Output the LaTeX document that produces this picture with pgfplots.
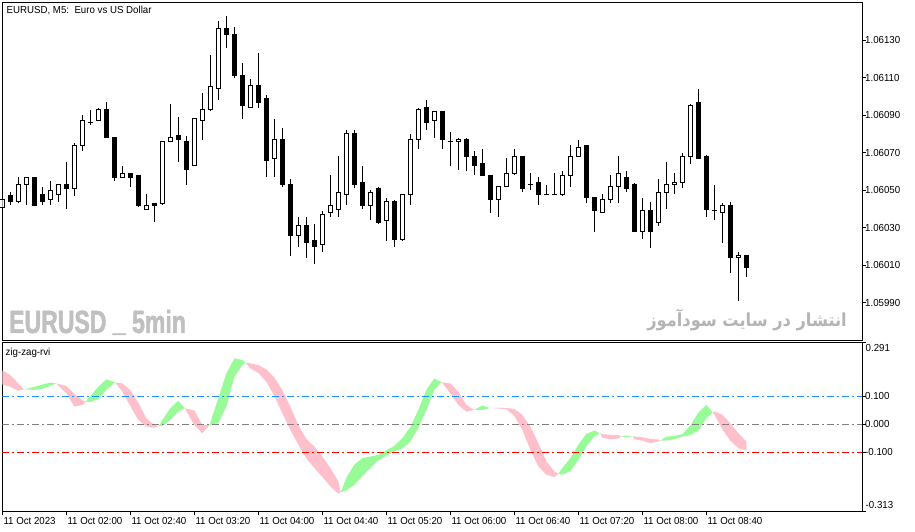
\documentclass[border=0pt]{standalone}
\usepackage{fontspec}
\setmainfont{Liberation Sans}[FakeStretch=0.95]
\newfontfamily\wmfont{Liberation Sans}[FakeStretch=0.72, FakeBold=1.5]
\newfontfamily\fafont{DejaVu Sans}[Script=Arabic, FakeStretch=0.9]
\TeXXeTstate=1
\usepackage{pgfplots}
\pgfplotsset{compat=1.18}
\usepackage{pgfplotstable}

\definecolor{bandgreen}{RGB}{152,251,152}
\definecolor{bandpink}{RGB}{255,192,203}
\definecolor{lvlblue}{RGB}{30,144,255}
\definecolor{lvlgray}{RGB}{128,128,128}
\definecolor{lvlred}{RGB}{255,0,0}
\definecolor{wmgray}{RGB}{192,192,192}
\definecolor{fagray}{RGB}{180,180,180}
\newcommand\lbl{\fontsize{10.2}{12}\selectfont}

% EURUSD M5, 11 Oct 2023, bar 0 = 01:20, one bar every 5 min
% wicks: low / high of each bar (nan breaks the line)
\pgfplotstableread[row sep=\\]{
x y\\
0 1.06040\\ 0 1.06046\\ 0 nan\\
1 1.06042\\ 1 1.06049\\ 1 nan\\
2 1.06043\\ 2 1.06057\\ 2 nan\\
3 1.06042\\ 3 1.06057\\ 3 nan\\
4 1.06042\\ 4 1.06057\\ 4 nan\\
5 1.06042\\ 5 1.06052\\ 5 nan\\
6 1.06042\\ 6 1.06055\\ 6 nan\\
7 1.06044\\ 7 1.06053\\ 7 nan\\
8 1.06040\\ 8 1.06065\\ 8 nan\\
9 1.06047\\ 9 1.06075\\ 9 nan\\
10 1.06071\\ 10 1.06090\\ 10 nan\\
11 1.06085\\ 11 1.06093\\ 11 nan\\
12 1.06087\\ 12 1.06094\\ 12 nan\\
13 1.06078\\ 13 1.06097\\ 13 nan\\
14 1.06055\\ 14 1.06078\\ 14 nan\\
15 1.06057\\ 15 1.06063\\ 15 nan\\
16 1.06052\\ 16 1.06059\\ 16 nan\\
17 1.06041\\ 17 1.06058\\ 17 nan\\
18 1.06040\\ 18 1.06048\\ 18 nan\\
19 1.06033\\ 19 1.06043\\ 19 nan\\
20 1.06042\\ 20 1.06076\\ 20 nan\\
21 1.06076\\ 21 1.06096\\ 21 nan\\
22 1.06065\\ 22 1.06089\\ 22 nan\\
23 1.06053\\ 23 1.06079\\ 23 nan\\
24 1.06063\\ 24 1.06088\\ 24 nan\\
25 1.06077\\ 25 1.06102\\ 25 nan\\
26 1.06092\\ 26 1.06122\\ 26 nan\\
27 1.06098\\ 27 1.06140\\ 27 nan\\
28 1.06126\\ 28 1.06143\\ 28 nan\\
29 1.06110\\ 29 1.06137\\ 29 nan\\
30 1.06088\\ 30 1.06118\\ 30 nan\\
31 1.06094\\ 31 1.06109\\ 31 nan\\
32 1.06094\\ 32 1.06123\\ 32 nan\\
33 1.06057\\ 33 1.06101\\ 33 nan\\
34 1.06057\\ 34 1.06088\\ 34 nan\\
35 1.06052\\ 35 1.06083\\ 35 nan\\
36 1.06015\\ 36 1.06056\\ 36 nan\\
37 1.06020\\ 37 1.06036\\ 37 nan\\
38 1.06014\\ 38 1.06036\\ 38 nan\\
39 1.06011\\ 39 1.06032\\ 39 nan\\
40 1.06017\\ 40 1.06039\\ 40 nan\\
41 1.06036\\ 41 1.06058\\ 41 nan\\
42 1.06036\\ 42 1.06068\\ 42 nan\\
43 1.06042\\ 43 1.06082\\ 43 nan\\
44 1.06051\\ 44 1.06082\\ 44 nan\\
45 1.06040\\ 45 1.06063\\ 45 nan\\
46 1.06034\\ 46 1.06050\\ 46 nan\\
47 1.06032\\ 47 1.06052\\ 47 nan\\
48 1.06023\\ 48 1.06046\\ 48 nan\\
49 1.06020\\ 49 1.06045\\ 49 nan\\
50 1.06023\\ 50 1.06048\\ 50 nan\\
51 1.06042\\ 51 1.06080\\ 51 nan\\
52 1.06072\\ 52 1.06094\\ 52 nan\\
53 1.06082\\ 53 1.06098\\ 53 nan\\
54 1.06078\\ 54 1.06092\\ 54 nan\\
55 1.06072\\ 55 1.06092\\ 55 nan\\
56 1.06063\\ 56 1.06081\\ 56 nan\\
57 1.06061\\ 57 1.06078\\ 57 nan\\
58 1.06060\\ 58 1.06078\\ 58 nan\\
59 1.06058\\ 59 1.06071\\ 59 nan\\
60 1.06058\\ 60 1.06072\\ 60 nan\\
61 1.06038\\ 61 1.06058\\ 61 nan\\
62 1.06036\\ 62 1.06052\\ 62 nan\\
63 1.06052\\ 63 1.06067\\ 63 nan\\
64 1.06058\\ 64 1.06072\\ 64 nan\\
65 1.06049\\ 65 1.06068\\ 65 nan\\
66 1.06050\\ 66 1.06059\\ 66 nan\\
67 1.06042\\ 67 1.06057\\ 67 nan\\
68 1.06048\\ 68 1.06053\\ 68 nan\\
69 1.06048\\ 69 1.06059\\ 69 nan\\
70 1.06047\\ 70 1.06060\\ 70 nan\\
71 1.06052\\ 71 1.06074\\ 71 nan\\
72 1.06068\\ 72 1.06077\\ 72 nan\\
73 1.06043\\ 73 1.06074\\ 73 nan\\
74 1.06028\\ 74 1.06046\\ 74 nan\\
75 1.06038\\ 75 1.06048\\ 75 nan\\
76 1.06043\\ 76 1.06058\\ 76 nan\\
77 1.06043\\ 77 1.06068\\ 77 nan\\
78 1.06049\\ 78 1.06060\\ 78 nan\\
79 1.06028\\ 79 1.06054\\ 79 nan\\
80 1.06024\\ 80 1.06046\\ 80 nan\\
81 1.06019\\ 81 1.06044\\ 81 nan\\
82 1.06031\\ 82 1.06056\\ 82 nan\\
83 1.06040\\ 83 1.06065\\ 83 nan\\
84 1.06048\\ 84 1.06059\\ 84 nan\\
85 1.06051\\ 85 1.06070\\ 85 nan\\
86 1.06064\\ 86 1.06096\\ 86 nan\\
87 1.06067\\ 87 1.06104\\ 87 nan\\
88 1.06036\\ 88 1.06069\\ 88 nan\\
89 1.06034\\ 89 1.06053\\ 89 nan\\
90 1.06022\\ 90 1.06043\\ 90 nan\\
91 1.06006\\ 91 1.06044\\ 91 nan\\
92 1.05991\\ 92 1.06017\\ 92 nan\\
93 1.06004\\ 93 1.06015\\ 93 nan\\
}\wicks

% rising bars: open / close
\pgfplotstableread[row sep=\\]{
x y\\
0 1.06041\\ 0 1.06045\\ 0 nan\\
2 1.06044\\ 2 1.06053\\ 2 nan\\
3 1.06053\\ 3 1.06057\\ 3 nan\\
6 1.06045\\ 6 1.06050\\ 6 nan\\
7 1.06048\\ 7 1.06053\\ 7 nan\\
9 1.06051\\ 9 1.06074\\ 9 nan\\
10 1.06074\\ 10 1.06087\\ 10 nan\\
12 1.06087\\ 12 1.06093\\ 12 nan\\
15 1.06057\\ 15 1.06059\\ 15 nan\\
18 1.06040\\ 18 1.06042\\ 18 nan\\
20 1.06043\\ 20 1.06076\\ 20 nan\\
21 1.06076\\ 21 1.06078\\ 21 nan\\
24 1.06063\\ 24 1.06088\\ 24 nan\\
25 1.06087\\ 25 1.06093\\ 25 nan\\
26 1.06093\\ 26 1.06105\\ 26 nan\\
27 1.06104\\ 27 1.06136\\ 27 nan\\
31 1.06094\\ 31 1.06106\\ 31 nan\\
34 1.06067\\ 34 1.06077\\ 34 nan\\
37 1.06026\\ 37 1.06031\\ 37 nan\\
40 1.06021\\ 40 1.06037\\ 40 nan\\
41 1.06038\\ 41 1.06042\\ 41 nan\\
42 1.06040\\ 42 1.06049\\ 42 nan\\
43 1.06048\\ 43 1.06080\\ 43 nan\\
46 1.06042\\ 46 1.06049\\ 46 nan\\
48 1.06034\\ 48 1.06044\\ 48 nan\\
50 1.06024\\ 50 1.06048\\ 50 nan\\
51 1.06048\\ 51 1.06077\\ 51 nan\\
52 1.06077\\ 52 1.06093\\ 52 nan\\
54 1.06087\\ 54 1.06092\\ 54 nan\\
57 1.06076\\ 57 1.06077\\ 57 nan\\
62 1.06045\\ 62 1.06052\\ 62 nan\\
63 1.06052\\ 63 1.06059\\ 63 nan\\
64 1.06059\\ 64 1.06068\\ 64 nan\\
70 1.06048\\ 70 1.06058\\ 70 nan\\
71 1.06058\\ 71 1.06068\\ 71 nan\\
72 1.06068\\ 72 1.06073\\ 72 nan\\
75 1.06038\\ 75 1.06045\\ 75 nan\\
76 1.06045\\ 76 1.06052\\ 76 nan\\
77 1.06052\\ 77 1.06059\\ 77 nan\\
80 1.06028\\ 80 1.06039\\ 80 nan\\
82 1.06033\\ 82 1.06049\\ 82 nan\\
83 1.06049\\ 83 1.06053\\ 83 nan\\
84 1.06053\\ 84 1.06054\\ 84 nan\\
85 1.06054\\ 85 1.06068\\ 85 nan\\
86 1.06068\\ 86 1.06095\\ 86 nan\\
90 1.06038\\ 90 1.06042\\ 90 nan\\
92 1.06014\\ 92 1.06015\\ 92 nan\\
}\bull

% falling bars (and doji): open / close
\pgfplotstableread[row sep=\\]{
x y\\
1 1.06047\\ 1 1.06044\\ 1 nan\\
4 1.06057\\ 4 1.06042\\ 4 nan\\
5 1.06048\\ 5 1.06044\\ 5 nan\\
8 1.06053\\ 8 1.06051\\ 8 nan\\
11 1.06086\\ 11 1.06086\\ 11 nan\\
13 1.06093\\ 13 1.06078\\ 13 nan\\
14 1.06078\\ 14 1.06057\\ 14 nan\\
16 1.06059\\ 16 1.06057\\ 16 nan\\
17 1.06058\\ 17 1.06042\\ 17 nan\\
19 1.06043\\ 19 1.06042\\ 19 nan\\
22 1.06079\\ 22 1.06077\\ 22 nan\\
23 1.06076\\ 23 1.06061\\ 23 nan\\
28 1.06136\\ 28 1.06133\\ 28 nan\\
29 1.06133\\ 29 1.06111\\ 29 nan\\
30 1.06111\\ 30 1.06095\\ 30 nan\\
32 1.06106\\ 32 1.06097\\ 32 nan\\
33 1.06099\\ 33 1.06066\\ 33 nan\\
35 1.06077\\ 35 1.06053\\ 35 nan\\
36 1.06053\\ 36 1.06026\\ 36 nan\\
38 1.06031\\ 38 1.06022\\ 38 nan\\
39 1.06023\\ 39 1.06020\\ 39 nan\\
44 1.06080\\ 44 1.06053\\ 44 nan\\
45 1.06054\\ 45 1.06042\\ 45 nan\\
47 1.06051\\ 47 1.06033\\ 47 nan\\
49 1.06044\\ 49 1.06024\\ 49 nan\\
53 1.06094\\ 53 1.06086\\ 53 nan\\
55 1.06092\\ 55 1.06077\\ 55 nan\\
56 1.06076\\ 56 1.06076\\ 56 nan\\
58 1.06077\\ 58 1.06068\\ 58 nan\\
59 1.06068\\ 59 1.06063\\ 59 nan\\
60 1.06064\\ 60 1.06058\\ 60 nan\\
61 1.06058\\ 61 1.06045\\ 61 nan\\
65 1.06068\\ 65 1.06051\\ 65 nan\\
66 1.06053\\ 66 1.06053\\ 66 nan\\
67 1.06054\\ 67 1.06048\\ 67 nan\\
68 1.06048\\ 68 1.06048\\ 68 nan\\
69 1.06048\\ 69 1.06048\\ 69 nan\\
73 1.06074\\ 73 1.06046\\ 73 nan\\
74 1.06046\\ 74 1.06039\\ 74 nan\\
78 1.06057\\ 78 1.06051\\ 78 nan\\
79 1.06053\\ 79 1.06028\\ 79 nan\\
81 1.06039\\ 81 1.06028\\ 81 nan\\
87 1.06097\\ 87 1.06067\\ 87 nan\\
88 1.06068\\ 88 1.06040\\ 88 nan\\
89 1.06039\\ 89 1.06039\\ 89 nan\\
91 1.06042\\ 91 1.06014\\ 91 nan\\
93 1.06015\\ 93 1.06009\\ 93 nan\\
}\bear

% zig-zag-rvi band, falling stretches (pink): each one is the upper edge
% left to right, then the lower edge back; nan starts the next stretch
\pgfplotstableread{
x y
-0.2 0.196
1 0.176
2 0.146
2.7 0.125
2 0.120
1 0.134
-0.2 0.144
nan nan
6.7 0.146
8 0.137
9 0.108
10 0.087
10.4 0.080
10 0.069
9 0.063
8 0.111
nan nan
14.1 0.150
15 0.146
16 0.122
17 0.077
18 0.021
19 -0.003
19.6 -0.006
19 -0.013
18 -0.008
17 0.015
16 0.065
15 0.117
nan nan
22.8 0.057
24 0.049
25 -0.003
25.9 -0.003
25 -0.032
24 -0.003
nan nan
30.4 0.220
31 0.218
32 0.212
33 0.196
34 0.168
35 0.122
36 0.063
37 -0.003
38 -0.053
39 -0.080
40 -0.116
41 -0.157
42 -0.205
42.3 -0.244
42 -0.249
41 -0.223
40 -0.189
39 -0.157
38 -0.123
37 -0.073
36 -0.020
35 0.039
34 0.101
33 0.152
32 0.184
31 0.200
nan nan
54.9 0.150
56 0.146
57 0.117
58 0.069
59 0.051
58 0.045
57 0.069
56 0.111
nan nan
60.9 0.058
62 0.059
63 0.058
64 0.054
65 0.033
66 -0.009
67 -0.068
68 -0.133
69 -0.169
69.5 -0.178
69 -0.189
68 -0.181
67 -0.151
66 -0.092
65 -0.020
64 0.030
63 0.054
62 0.056
nan nan
74.7 -0.033
75 -0.036
76 -0.038
77 -0.039
77.4 -0.044
77 -0.051
76 -0.054
75 -0.048
nan nan
78.8 -0.045
79 -0.044
80 -0.047
81 -0.053
82 -0.055
82.3 -0.059
82 -0.062
81 -0.068
80 -0.059
79 -0.054
nan nan
88.8 0.042
89 0.046
90 0.034
91 0.003
92 -0.032
93 -0.062
93 -0.094
92 -0.086
91 -0.059
90 -0.018
89 0.034
}\rvipink

% rising stretches (green), same layout
\pgfplotstableread{
x y
2.7 0.125
4 0.134
5 0.142
6 0.149
6.7 0.146
6 0.137
5 0.127
4 0.123
nan nan
10.4 0.080
11 0.101
12 0.134
13 0.161
14.1 0.150
13 0.123
12 0.089
11 0.080
nan nan
19.6 -0.006
20 0.015
21 0.057
22 0.084
22.8 0.057
22 0.045
21 0.015
20 -0.006
nan nan
25.9 -0.003
27 0.093
28 0.182
29 0.236
30 0.230
30.4 0.220
30 0.212
29 0.170
28 0.063
27 0.004
nan nan
42.3 -0.244
43 -0.193
44 -0.145
45 -0.122
46 -0.116
47 -0.110
48 -0.094
49 -0.078
50 -0.050
51 -0.011
52 0.051
53 0.123
54 0.164
54.9 0.150
54 0.123
53 0.051
52 -0.014
51 -0.062
50 -0.086
49 -0.098
48 -0.113
47 -0.130
46 -0.157
45 -0.187
44 -0.217
43 -0.237
nan nan
59 0.051
60 0.067
60.9 0.058
60 0.050
nan nan
69.5 -0.178
70 -0.157
71 -0.122
72 -0.074
73 -0.035
74 -0.023
74.7 -0.033
74 -0.044
73 -0.080
72 -0.128
71 -0.169
70 -0.181
nan nan
77.4 -0.044
78 -0.041
78.8 -0.045
78 -0.047
nan nan
82.3 -0.059
83 -0.045
84 -0.042
85 -0.036
86 -0.005
87 0.041
88 0.069
88.8 0.042
88 0.021
87 -0.023
86 -0.039
85 -0.045
84 -0.054
83 -0.059
}\rvigreen

\pgfplotsset{
  mtpane/.style={
    scale only axis, anchor=south west,
    width=859.67pt,
    xmin=0, xmax=107.46,
    axis line style={black, line width=1pt},
    tick style={black, line width=1pt},
    major tick length=4pt, tick align=outside,
    ytick pos=right, yticklabel pos=right,
    ticklabel style={font=\lbl},
    yticklabel style={anchor=west, inner sep=0pt, xshift=-1pt},
    unbounded coords=jump,
  },
}

\begin{document}
\begin{tikzpicture}
\fill[white] (0pt,0pt) rectangle (915pt,532pt);
\path[use as bounding box] (0pt,0pt) rectangle (915pt,532pt);

% price pane
\begin{axis}[mtpane,
  at={(2.33pt,191.5pt)}, height=338pt,
  ymin=1.0597, ymax=1.0615,
  xtick=\empty,
  ytick={1.05990,1.06010,1.06030,1.06050,1.06070,1.06090,1.06110,1.06130},
  yticklabels={1.05990,1.06010,1.06030,1.06050,1.06070,1.06090,1.06110,1.06130},
]
\addplot[black, line width=1pt] table[x=x, y=y]{\wicks};
\addplot[black, line width=5pt] table[x=x, y=y]{\bull};
\addplot[white, line width=3pt] table[x=x, y=y]{\bull};
\addplot[only marks, mark=-, mark size=2.5pt, mark options={black, line width=1pt}] table[x=x, y=y]{\bull};
\addplot[black, line width=5pt] table[x=x, y=y]{\bear};
\addplot[only marks, mark=-, mark size=2.5pt, mark options={black, line width=1pt}] table[x=x, y=y]{\bear};
\end{axis}

% indicator pane
\begin{axis}[mtpane,
  at={(2.33pt,20.5pt)}, height=168.5pt,
  ymin=-0.313, ymax=0.291,
  xtick={0,8,...,88}, xtick pos=bottom,
  xticklabels={11 Oct 2023,11 Oct 02:00,11 Oct 02:40,11 Oct 03:20,11 Oct 04:00,11 Oct 04:40,11 Oct 05:20,11 Oct 06:00,11 Oct 06:40,11 Oct 07:20,11 Oct 08:00,11 Oct 08:40},
  xticklabel style={anchor=north west, inner sep=0pt, xshift=1pt, yshift=-1.2pt},
  ytick={-0.313,-0.1,0,0.1,0.291},
  yticklabels={,-0.100,0.000,0.100,},
]
\addplot[fill=bandpink, draw=none] table[x=x, y=y]{\rvipink};
\addplot[fill=bandgreen, draw=none] table[x=x, y=y]{\rvigreen};
\addplot[lvlblue, line width=1pt, dash pattern=on 7pt off 3pt on 2pt off 3pt] coordinates {(0,0.1) (107.46,0.1)};
\addplot[lvlgray, line width=1pt, dash pattern=on 7pt off 3pt on 2pt off 3pt] coordinates {(0,0) (107.46,0)};
\addplot[lvlred, line width=1pt, dash pattern=on 7pt off 3pt on 2pt off 3pt] coordinates {(0,-0.1) (107.46,-0.1)};
\end{axis}

% captions and watermarks
\node[anchor=west, inner sep=0pt, font=\lbl] at (865.5pt,184pt) {0.291};
\node[anchor=west, inner sep=0pt, font=\lbl] at (865.5pt,26.7pt) {-0.313};
\node[anchor=base west, inner sep=0pt, font=\lbl] at (6.5pt,518.5pt) {EURUSD, M5:\ \ Euro vs US Dollar};
\node[anchor=base west, inner sep=0pt, font=\lbl] at (5.5pt,176pt) {zig-zag-rvi};
\node[anchor=base west, inner sep=0pt, text=wmgray, font=\wmfont\bfseries\fontsize{32}{32}\selectfont] at (9pt,199pt) {EURUSD \raisebox{2pt}{\_} 5min};
\node[anchor=base east, inner sep=0pt, text=fagray, font=\fafont\bfseries\fontsize{18}{18}\selectfont] at (847pt,205pt) {\beginR انتشار در سایت سودآموز\endR};
\end{tikzpicture}
\end{document}
